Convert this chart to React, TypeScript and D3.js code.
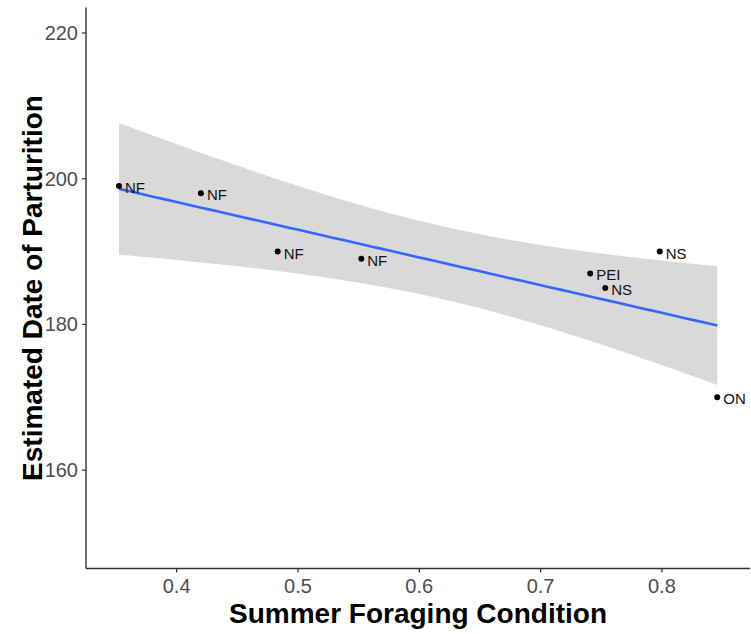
import React, { useEffect } from "react";
import * as d3 from "d3";

const foraging = [0.3525, 0.42, 0.4833, 0.5522, 0.7409, 0.7533, 0.7982, 0.8456];
const parturition = [199, 198, 190, 189, 187, 185, 190, 170];
const regions = ["NF", "NF", "NF", "NF", "PEI", "NS", "NS", "ON"];
const xTicks = [0.4, 0.5, 0.6, 0.7, 0.8];
const yTicks = [160, 180, 200, 220];

const W = 751;
const H = 634;
const left = 86;
const right = 750;
const top = 7.5;
const bottom = 568.5;

export default function App() {
  useEffect(() => {
    document.body.style.margin = "0";
  }, []);

  const x = d3.scaleLinear().domain([0.3253, 0.8726]).range([left, right]);
  const y = d3.scaleLinear().domain([146.5, 223.5]).range([bottom, top]);

  // linear model fit (geom_smooth(method = "lm"))
  const n = foraging.length;
  const mx = d3.mean(foraging) as number;
  const my = d3.mean(parturition) as number;
  let sxx = 0, sxy = 0;
  foraging.forEach((xi, i) => {
    sxx += (xi - mx) ** 2;
    sxy += (xi - mx) * (parturition[i] - my);
  });
  const slope = sxy / sxx;
  const intercept = my - slope * mx;
  let ssr = 0;
  foraging.forEach((xi, i) => {
    ssr += (parturition[i] - (intercept + slope * xi)) ** 2;
  });
  const s = Math.sqrt(ssr / (n - 2));
  const tq = 2.446912; // qt(0.975, 6)
  const xmin = d3.min(foraging) as number;
  const xmax = d3.max(foraging) as number;
  const grid = d3.range(0, 81).map((k) => xmin + ((xmax - xmin) * k) / 80);
  const band = grid.map((xv) => {
    const fit = intercept + slope * xv;
    const se = s * Math.sqrt(1 / n + (xv - mx) ** 2 / sxx);
    return { xv, fit, lo: fit - tq * se, hi: fit + tq * se };
  });

  const area = d3
    .area<any>()
    .x((d) => x(d.xv))
    .y0((d) => y(d.lo))
    .y1((d) => y(d.hi));
  const line = d3
    .line<any>()
    .x((d) => x(d.xv))
    .y((d) => y(d.fit));

  const font = "'Liberation Sans', Arial, Helvetica, sans-serif";
  const axisColor = "#333333";
  const tickText = "#4d4d4d";

  return (
    <svg width={W} height={H} style={{ display: "block", background: "#fff" }} fontFamily={font}>
      <path d={area(band) as string} fill="#d9d9d9" />
      <path d={line(band) as string} fill="none" stroke="#3366FF" strokeWidth={2.6} />
      {foraging.map((xv, i) => (
        <g key={i}>
          <circle cx={x(xv)} cy={y(parturition[i])} r={3} fill="#000" />
          <text
            x={x(xv) + 6}
            y={y(parturition[i]) + 1.5}
            fontSize={15}
            dominantBaseline="central"
            fill="#111"
          >
            {regions[i]}
          </text>
        </g>
      ))}
      {/* axes */}
      <line x1={left} x2={left} y1={top} y2={bottom} stroke={axisColor} strokeWidth={1.4} />
      <line x1={left} x2={right} y1={bottom} y2={bottom} stroke={axisColor} strokeWidth={1.4} />
      {yTicks.map((t) => (
        <g key={t}>
          <line x1={left - 4} x2={left} y1={y(t)} y2={y(t)} stroke={axisColor} strokeWidth={1.2} />
          <text
            x={left - 8}
            y={y(t)}
            textAnchor="end"
            dominantBaseline="central"
            fontSize={20}
            fill={tickText}
          >
            {t}
          </text>
        </g>
      ))}
      {xTicks.map((t) => (
        <g key={t}>
          <line x1={x(t)} x2={x(t)} y1={bottom} y2={bottom + 4} stroke={axisColor} strokeWidth={1.2} />
          <text x={x(t)} y={bottom + 24} textAnchor="middle" fontSize={20} fill={tickText}>
            {t.toFixed(1)}
          </text>
        </g>
      ))}
      <text
        x={(left + right) / 2}
        y={623}
        textAnchor="middle"
        fontSize={28}
        fontWeight="bold"
        fill="#000"
      >
        Summer Foraging Condition
      </text>
      <text
        transform={`translate(42, ${(top + bottom) / 2}) rotate(-90)`}
        textAnchor="middle"
        fontSize={28}
        fontWeight="bold"
        fill="#000"
      >
        Estimated Date of Parturition
      </text>
    </svg>
  );
}
